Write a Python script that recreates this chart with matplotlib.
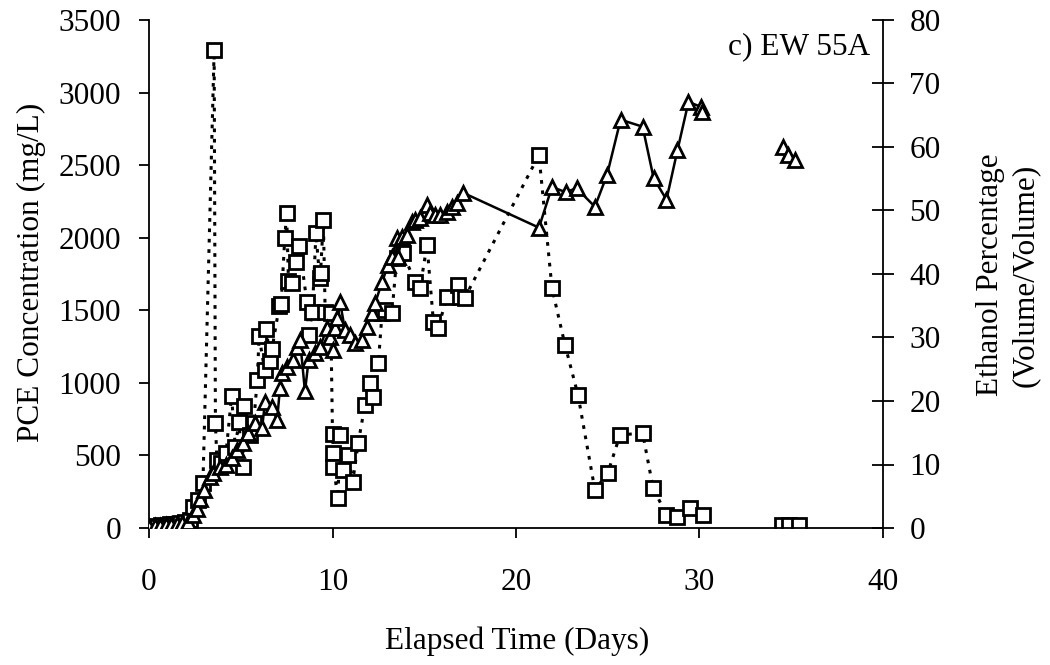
import matplotlib
matplotlib.use("Agg")
import matplotlib.pyplot as plt
import numpy as np

plt.rcParams['font.family'] = ['Liberation Serif', 'DejaVu Serif']

# PCE concentration (mg/L), squares, dotted line
pce_days = [0.05, 0.2, 0.45, 0.65, 0.87, 1.14, 1.42, 1.69, 1.96, 2.23, 2.40, 2.67, 2.94,
            3.55, 3.62, 3.70, 3.95, 4.2, 4.5, 4.7, 4.9, 5.1, 5.2, 5.5, 5.7, 5.9, 6.0, 6.3,
            6.4, 6.6, 6.7, 7.1, 7.2, 7.4, 7.5, 7.6, 7.8, 8.0, 8.2, 8.6, 8.7, 8.9, 9.1,
            9.3, 9.35, 9.5, 9.6, 9.9, 10.0, 10.03, 10.05, 10.3, 10.4, 10.57, 10.85, 11.1,
            11.4, 11.77, 12.04, 12.2, 12.5, 12.7, 12.86, 13.24, 13.5, 13.84, 14.5, 14.77,
            15.15, 15.5, 15.75, 16.24, 16.84, 16.95, 17.2, 21.25, 21.96, 22.67, 23.38,
            24.3, 25.0, 25.67, 26.9, 27.47, 28.2, 28.77, 29.48, 30.2]
pce_vals = [10, 14, 7, 21, 14, 28, 28, 34, 41, 55, 145, 193, 310,
            3290, 720, 470, 450, 520, 910, 560, 730, 420, 840, 640, 720, 1020, 1320, 1090,
            1370, 1150, 1230, 1530, 1540, 2000, 2170, 1700, 1690, 1830, 1940, 1560, 1330,
            1490, 2030, 1720, 1760, 2120, 1490, 1480, 650, 520, 420, 207, 641, 400, 503,
            317, 586, 848, 1000, 903, 1137, 1481, 1500, 1481, 1860, 1894, 1695, 1653,
            1950, 1419, 1378, 1591, 1674, 1591, 1584, 2570, 1653, 1261, 916,
            262, 379, 641, 654, 276, 90, 76, 138, 90]
pce_late_days = [34.5, 34.9, 35.4]
pce_late_vals = [18, 18, 18]

# Ethanol percentage (vol/vol), triangles, solid line
eth_days = [0.0, 0.3, 0.6, 0.9, 1.2, 1.5, 1.8, 2.1, 2.4, 2.6, 2.8, 3.0, 3.3, 3.49, 3.87,
            4.2, 4.5, 4.8, 5.12, 5.4, 5.78, 6.16, 6.32, 6.7, 6.98, 7.14, 7.25, 7.52, 7.85,
            8.07, 8.23, 8.5, 8.7, 9.05, 9.32, 9.7, 9.86, 10.03, 10.14, 10.25, 10.41, 10.68,
            10.95, 11.23, 11.61, 11.88, 12.15, 12.32, 12.7, 13.02, 13.24, 13.52, 13.57,
            13.79, 14.06, 14.33, 14.5, 14.77, 15.15, 15.31, 15.59, 15.86, 16.24, 16.51,
            16.78, 17.11, 21.25, 21.96, 22.7, 23.3, 24.3, 24.96, 25.7, 26.9, 27.5, 28.2,
            28.8, 29.4, 30.1, 30.15]
eth_vals = [0.2, 0.3, 0.3, 0.4, 0.5, 0.6, 0.8, 1.0, 2.0, 3.0, 4.5, 6.0, 8.0, 8.7, 9.6,
            10.0, 11.0, 12.3, 13.4, 15.0, 16.5, 15.7, 19.8, 19.1, 17.0, 22.1, 24.4, 25.4,
            26.5, 28.5, 29.6, 21.5, 26.5, 27.6, 28.5, 31.5, 30.1, 28.0, 31.5, 33.1, 35.6,
            31.2, 30.4, 29.1, 29.6, 31.7, 33.9, 35.4, 38.7, 41.4, 42.7, 45.7, 42.7, 45.8,
            46.1, 48.2, 48.5, 48.8, 50.9, 49.6, 49.3, 49.3, 49.8, 50.6, 51.2, 52.8, 47.3,
            53.7, 52.9, 53.5, 50.6, 55.6, 64.3, 63.2, 55.1, 51.7, 59.5, 67.1, 66.3, 65.5]
eth_late_days = [34.55, 34.8, 35.2]
eth_late_vals = [60.0, 58.7, 58.0]

x_ticks = [0, 10, 20, 30, 40]
pce_ticks = [0, 500, 1000, 1500, 2000, 2500, 3000, 3500]
eth_ticks = [0, 10, 20, 30, 40, 50, 60, 70, 80]

W, H = 1050, 665
FS = 22.5

fig = plt.figure(figsize=(W / 100, H / 100), dpi=100)
ax = fig.add_axes([149 / W, 1 - 528 / H, (883 - 149) / W, (528 - 20) / H])
ax2 = ax.twinx()

msq = dict(marker='s', markersize=9.5, markerfacecolor='white', markeredgecolor='black',
           markeredgewidth=2.0)
mtr = dict(marker='^', markersize=10.5, markerfacecolor='white', markeredgecolor='black',
           markeredgewidth=2.0)

ax.plot(pce_days, pce_vals, color='black', linestyle=(0, (1.2, 2.2)), linewidth=2.2,
        zorder=2, **msq)
ax.plot(pce_late_days, pce_late_vals, linestyle='none', zorder=2, **msq)

ax2.plot(eth_days, eth_vals, color='black', linestyle='-', linewidth=1.8, zorder=3, **mtr)
ax2.plot(eth_late_days, eth_late_vals, linestyle='none', zorder=3, **mtr)

ax.set_xlim(0, 40)
ax.set_ylim(0, 3500)
ax2.set_ylim(0, 80)
ax.set_xticks(x_ticks)
ax.set_yticks(pce_ticks)
ax2.set_yticks(eth_ticks)

for a in (ax, ax2):
    a.spines['top'].set_visible(False)
    a.set_facecolor('none')
ax.spines['right'].set_visible(False)
for s in ['left', 'bottom']:
    ax.spines[s].set_linewidth(1.3)
ax2.spines['right'].set_linewidth(1.3)
ax2.spines['left'].set_visible(False)
ax2.spines['bottom'].set_visible(False)

ax.tick_params(axis='x', direction='out', length=7, width=1.3, labelsize=FS, pad=22)
ax.tick_params(axis='y', direction='out', length=7, width=1.3, labelsize=FS, pad=13)
ax2.tick_params(axis='y', direction='inout', length=16, width=1.3, labelsize=FS, pad=11)

fig.text(517 / W, 1 - 641 / H, 'Elapsed Time (Days)', fontsize=FS, ha='center', va='center')
fig.text(31 / W, 1 - 272 / H, 'PCE Concentration (mg/L)', fontsize=FS, ha='center',
         va='center', rotation=90)
fig.text(1008 / W, 1 - 275 / H, 'Ethanol Percentage\n(Volume/Volume)', fontsize=FS,
         ha='center', va='center', rotation=90, multialignment='center', linespacing=1.3)

ax.text(0.983, 0.975, 'c) EW 55A', transform=ax.transAxes, ha='right', va='top',
        fontsize=FS)

fig.savefig('out.png', dpi=100)
